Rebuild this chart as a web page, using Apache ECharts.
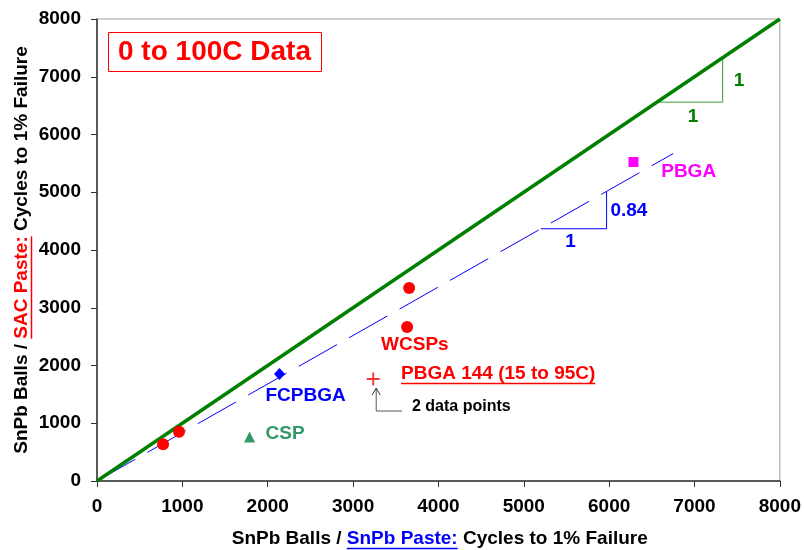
<!DOCTYPE html>
<html><head><meta charset="utf-8">
<script src="https://cdn.jsdelivr.net/npm/echarts@6/dist/echarts.min.js"></script>
<style>html,body{margin:0;padding:0;background:#fff}#c{width:804px;height:550px}</style>
</head><body><div id="c"></div>
<script>
// ---- data ----
const axisMin = 0, axisMax = 8000, axisStep = 1000;
const unityLine = [[0, 0], [8000, 8000]];
const fitLine = [[0, 0], [6750, 5670]];
const wcspPoints = [[774, 635], [961, 854], [3657, 3342], [3633, 2667]];
const fcpbgaPoints = [[2138, 1853]];
const cspPoints = [[1787, 762]];
const pbgaPoints = [[6285, 5524]];
const pbga144Points = [[3236, 1766]];
const unityTriangle = [[6560, 6560], [7330, 6560], [7330, 7330]];
const fitTriangle = [[5200, 4368], [5970, 4368], [5970, 5015]];
const arrowPath = [[3575, 1212], [3271, 1212], [3271, 1610]];
const arrowHead = [[3224, 1489], [3271, 1610], [3318, 1489]];
// annotation texts: [x, y, text, color, align, fontSize]
const annotations = [
  [6610, 5351, 'PBGA', '#ff00ff', 'left', 19],
  [3328, 2355, 'WCSPs', '#ff0000', 'left', 19],
  [3562, 1853, 'PBGA 144 (15 to 95C)', '#ff0000', 'left', 19],
  [1974, 1472, 'FCPBGA', '#0000ff', 'left', 19],
  [1974, 814, 'CSP', '#339966', 'left', 19],
  [3690, 1281, '2 data points', '#000000', 'left', 16],
  [6984, 6303, '1', '#008000', 'center', 19],
  [7521, 6926, '1', '#008000', 'center', 19],
  [5547, 4139, '1', '#0000ff', 'center', 19],
  [6015, 4675, '0.84', '#0000ff', 'left', 19]
];
const titleText = '0 to 100C Data';
const xNameParts = ['SnPb Balls / ', 'SnPb Paste:', ' Cycles to 1% Failure'];
const yNameParts = ['SnPb Balls / ', 'SAC Paste:', ' Cycles to 1% Failure'];

// ---- chart ----
const FF = '"Liberation Sans", Arial, sans-serif';
const chart = echarts.init(document.getElementById('c'), null, {renderer: 'canvas'});
const grid = {left: 97, right: 21.5, top: 19, bottom: 69};
const axisCommon = {
  type: 'value', min: axisMin, max: axisMax, interval: axisStep,
  splitLine: {show: false},
  axisLine: {show: true, lineStyle: {color: '#333', width: 1.5}},
  axisTick: {show: true, inside: false, length: 6, lineStyle: {color: '#333', width: 1}},
  axisLabel: {color: '#000', fontWeight: 'bold', fontSize: 19, fontFamily: FF, margin: 16,
    formatter: v => String(v)}
};
const annSeries = annotations.map(a => ({
  type: 'scatter', data: [[a[0], a[1]]], symbolSize: 0, silent: true, z: 10,
  itemStyle: {opacity: 1},
  label: {show: true, position: [0, 0], formatter: a[2], color: a[3], opacity: 1, align: a[4],
    verticalAlign: 'middle', fontWeight: 'bold', fontSize: a[5], fontFamily: FF}
}));
chart.setOption({
  animation: false,
  backgroundColor: '#fff',
  grid: Object.assign({show: true, borderColor: '#a0a0a0', borderWidth: 1}, grid),
  xAxis: Object.assign({}, axisCommon),
  yAxis: Object.assign({}, axisCommon),
  series: [
    {type: 'line', data: fitLine, symbol: 'none', lineStyle: {color: '#0000ff', width: 1, type: [44, 14]}, z: 2},
    {type: 'line', data: unityLine, symbol: 'none', lineStyle: {color: '#008000', width: 3.5}, z: 3},
    {type: 'line', data: unityTriangle, symbol: 'none', lineStyle: {color: '#3a9a3a', width: 1}, z: 2},
    {type: 'line', data: fitTriangle, symbol: 'none', lineStyle: {color: '#0000ff', width: 1}, z: 2},
    {type: 'scatter', data: wcspPoints, symbol: 'circle', symbolSize: 12, itemStyle: {color: '#ff0000', opacity: 1}, z: 5},
    {type: 'scatter', data: fcpbgaPoints, symbol: 'diamond', symbolSize: [11, 12], itemStyle: {color: '#0000ff', opacity: 1}, z: 5},
    {type: 'scatter', data: cspPoints, symbol: 'triangle', symbolSize: 11, itemStyle: {color: '#339966', opacity: 1}, z: 5},
    {type: 'scatter', data: pbgaPoints, symbol: 'rect', symbolSize: 10, itemStyle: {color: '#ff00ff', opacity: 1}, z: 5},
    {type: 'scatter', data: pbga144Points, symbol: 'path://M6,0H8V6H14V8H8V14H6V8H0V6H6Z', symbolSize: 13, itemStyle: {color: '#ff3333', opacity: 1}, z: 5},
    {type: 'line', data: arrowPath, symbol: 'none', lineStyle: {color: '#555', width: 1}, z: 4},
    {type: 'line', data: arrowHead, symbol: 'none', lineStyle: {color: '#333', width: 1}, z: 4}
  ].concat(annSeries)
});

// ---- decorations: title box, axis names with underlines ----
const cv = document.createElement('canvas').getContext('2d');
function tw(t, size) { cv.font = 'bold ' + size + 'px ' + FF; return cv.measureText(t).width; }
const nameSize = 19;
const richDef = (c2) => ({
  a: {fill: '#000', fontWeight: 'bold', fontSize: nameSize, fontFamily: FF},
  h: {fill: c2, fontWeight: 'bold', fontSize: nameSize, fontFamily: FF}
});
const gl = 97, gr = 782.5, gt = 19, gb = 481;
const xCx = (gl + gr) / 2, xCy = 539;
const yCx = 22, yCy = (gt + gb) / 2;
const xTot = tw(xNameParts.join(''), nameSize);
const yTot = tw(yNameParts.join(''), nameSize);
const xU0 = xCx - xTot / 2 + tw(xNameParts[0], nameSize);
const xU1 = xU0 + tw(xNameParts[1], nameSize);
const yU0 = yCy + yTot / 2 - tw(yNameParts[0], nameSize);
const yU1 = yU0 - tw(yNameParts[1], nameSize);

// underline for PBGA 144 label
const p144 = chart.convertToPixel({xAxisIndex: 0, yAxisIndex: 0}, [annotations[2][0], annotations[2][1]]);
const p144w = tw(annotations[2][2], 19);

chart.setOption({
  graphic: [
    {type: 'rect', shape: {x: 108.5, y: 32.5, width: 213, height: 39}, style: {fill: '#fff', stroke: '#ff0000', lineWidth: 1}, z: 20},
    {type: 'text', x: 214.5, y: 52, z: 21, style: {text: titleText, fill: '#ff0000', font: 'bold 28px ' + FF, align: 'center', verticalAlign: 'middle'}},
    {type: 'text', x: xCx, y: xCy, z: 21, style: {text: '{a|' + xNameParts[0] + '}{h|' + xNameParts[1] + '}{a|' + xNameParts[2] + '}', rich: richDef('#0000ff'), align: 'center', verticalAlign: 'middle'}},
    {type: 'line', z: 21, shape: {x1: xU0, y1: xCy + 9.5, x2: xU1, y2: xCy + 9.5}, style: {stroke: '#0000ff', lineWidth: 1.5}},
    {type: 'text', x: yCx, y: yCy, rotation: Math.PI / 2, z: 21, style: {text: '{a|' + yNameParts[0] + '}{h|' + yNameParts[1] + '}{a|' + yNameParts[2] + '}', rich: richDef('#ff0000'), align: 'center', verticalAlign: 'middle'}},
    {type: 'line', z: 21, shape: {x1: yCx + 9.5, y1: yU0, x2: yCx + 9.5, y2: yU1}, style: {stroke: '#ff0000', lineWidth: 1.5}},
    {type: 'line', z: 21, shape: {x1: p144[0], y1: p144[1] + 9.5, x2: p144[0] + p144w, y2: p144[1] + 9.5}, style: {stroke: '#ff0000', lineWidth: 1.5}}
  ]
});
</script></body></html>
